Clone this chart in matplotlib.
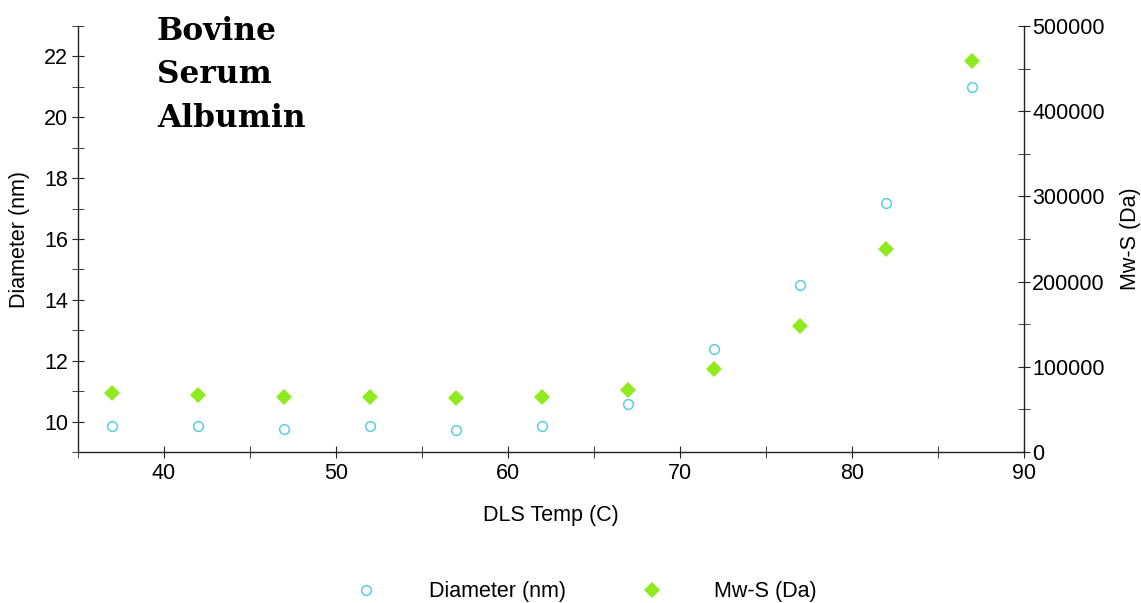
import numpy as np
import matplotlib.pyplot as plt
from matplotlib.ticker import MultipleLocator

# Data
temp_c = [37, 42, 47, 52, 57, 62, 67, 72, 77, 82, 87]
diameter_nm = [9.87, 9.87, 9.74, 9.87, 9.71, 9.87, 10.57, 12.38, 14.49, 17.19, 20.98]
mw_s_da = [69000, 67000, 64500, 64500, 63500, 64500, 73000, 97500, 148000, 238500, 459000]

circle_color = '#5ccfdc'
diamond_color = '#8fea1e'
FS = 15.5

plt.rcParams['font.family'] = ['Liberation Sans', 'DejaVu Sans']

fig = plt.figure(figsize=(11.41, 6.03), dpi=100)
ax_1 = fig.add_axes([78 / 1141, 1 - 452 / 603, (1024 - 78) / 1141, (452 - 26) / 603])
ax_2 = ax_1.twinx()

h1, = ax_1.plot(temp_c, diameter_nm, linestyle='none', marker='o', markersize=7,
                markerfacecolor='none', markeredgecolor=circle_color, markeredgewidth=1.1,
                label='Diameter (nm)')
h2, = ax_2.plot(temp_c, mw_s_da, linestyle='none', marker='D', markersize=8.5,
                color=diamond_color, markeredgewidth=0, label='Mw-S (Da)')

ax_1.set_xlim(35, 90)
ax_1.set_ylim(9, 23)
ax_2.set_ylim(0, 500000)

ax_1.xaxis.set_major_locator(MultipleLocator(10))
ax_1.xaxis.set_minor_locator(MultipleLocator(5))
ax_1.yaxis.set_major_locator(MultipleLocator(2))
ax_1.yaxis.set_minor_locator(MultipleLocator(1))
ax_2.yaxis.set_major_locator(MultipleLocator(100000))
ax_2.yaxis.set_minor_locator(MultipleLocator(50000))

for ax in (ax_1, ax_2):
    ax.spines['top'].set_visible(False)
    for s in ax.spines.values():
        s.set_color('#222222')
        s.set_linewidth(1.0)
    ax.tick_params(which='both', direction='inout', color='#222222', labelsize=FS, length=8)
ax_1.spines['right'].set_visible(False)
ax_2.spines['left'].set_visible(False)
ax_2.spines['bottom'].set_visible(False)
ax_1.tick_params(axis='x', pad=4)
ax_1.tick_params(axis='y', pad=3)
ax_2.tick_params(axis='y', pad=2)

ax_1.set_xlabel('DLS Temp (C)', fontsize=FS, labelpad=15)
ax_1.set_ylabel('Diameter (nm)', fontsize=FS, labelpad=10)
ax_2.set_ylabel('Mw-S (Da)', fontsize=FS, rotation=90, labelpad=11)

fig.text(157 / 1141, 1 - 16 / 603, 'Bovine\nSerum\nAlbumin', family='DejaVu Serif',
         fontweight='bold', fontsize=22.5, va='top', ha='left', linespacing=1.52)

fig.legend([h1, h2], ['Diameter (nm)', 'Mw-S (Da)'], loc='center',
           bbox_to_anchor=(581 / 1141, 1 - 592 / 603), ncol=2, frameon=False,
           fontsize=FS, handletextpad=1.9, columnspacing=3.0, markerscale=1.0)

fig.savefig('out.png', dpi=100)
